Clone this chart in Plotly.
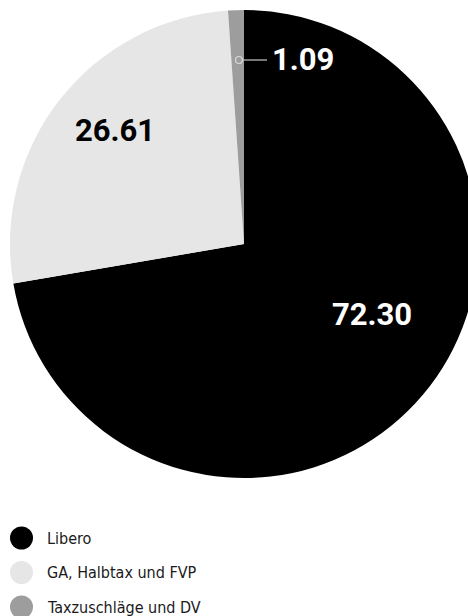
import plotly.graph_objects as go

# ---- data ----
labels = ["Libero", "GA, Halbtax und FVP", "Taxzuschläge und DV"]
values = [72.30, 26.61, 1.09]
colors = ["#000000", "#e6e6e6", "#9d9d9d"]
label_colors = ["#ffffff", "#000000", "#ffffff"]

FONT = "DejaVu Sans Condensed, Roboto, sans-serif"
FONT_NUM = "Roboto, Liberation Sans, sans-serif"

W, H = 488, 616
ML, MT = 10, 10
PLOT = 468
MB = H - MT - PLOT
MR = W - ML - PLOT


def px(x):
    return (x - ML) / PLOT


def py(y):
    return (MT + PLOT - y) / PLOT


fig = go.Figure(
    go.Pie(
        labels=labels,
        values=values,
        marker=dict(colors=colors, line=dict(width=0)),
        sort=False,
        direction="clockwise",
        rotation=0,
        textinfo="none",
        hoverinfo="label+value",
        showlegend=False,
        domain=dict(x=[0, 1], y=[0, 1]),
    )
)

# value labels (pixel positions of label centres)
label_pos = [(372, 314), (115, 130), (303, 60)]
annotations = []
for v, (lx, ly), c in zip(values, label_pos, label_colors):
    annotations.append(
        dict(
            x=px(lx), y=py(ly), xref="paper", yref="paper",
            text=f"<b>{v:.2f}</b>", showarrow=False,
            font=dict(family=FONT_NUM, size=31, color=c),
            xanchor="center", yanchor="middle",
        )
    )

shapes = [
    # leader line for small slice
    dict(type="line", xref="paper", yref="paper",
         x0=px(239), y0=py(60), x1=px(267), y1=py(60),
         line=dict(color="#c8c8c8", width=1.2)),
    dict(type="circle", xref="paper", yref="paper",
         x0=px(235.5), y0=py(56.5), x1=px(242.5), y1=py(63.5),
         fillcolor="#9d9d9d", line=dict(color="#d8d8d8", width=1.2)),
]

# legend (custom, round markers)
leg_y = [538, 572.5, 607]
for lab, col, ly in zip(labels, colors, leg_y):
    shapes.append(dict(type="circle", xref="paper", yref="paper",
                       x0=px(10), y0=py(ly - 11.5), x1=px(33), y1=py(ly + 11.5),
                       fillcolor=col, line=dict(width=0)))
    annotations.append(dict(x=px(45), y=py(ly), xref="paper", yref="paper",
                            text=lab, showarrow=False, xanchor="left", yanchor="middle",
                            font=dict(family=FONT, size=16, color="#1a1a1a")))

fig.update_layout(
    width=W, height=H,
    margin=dict(l=ML, r=MR, t=MT, b=MB, pad=0),
    paper_bgcolor="#ffffff",
    plot_bgcolor="#ffffff",
    showlegend=False,
    annotations=annotations,
    shapes=shapes,
    font=dict(family=FONT),
)

fig.write_html(
    "out.html",
    config={"displayModeBar": False},
    post_script="document.body.style.margin='0';document.body.style.overflow='hidden';document.documentElement.style.overflow='hidden';",
)
